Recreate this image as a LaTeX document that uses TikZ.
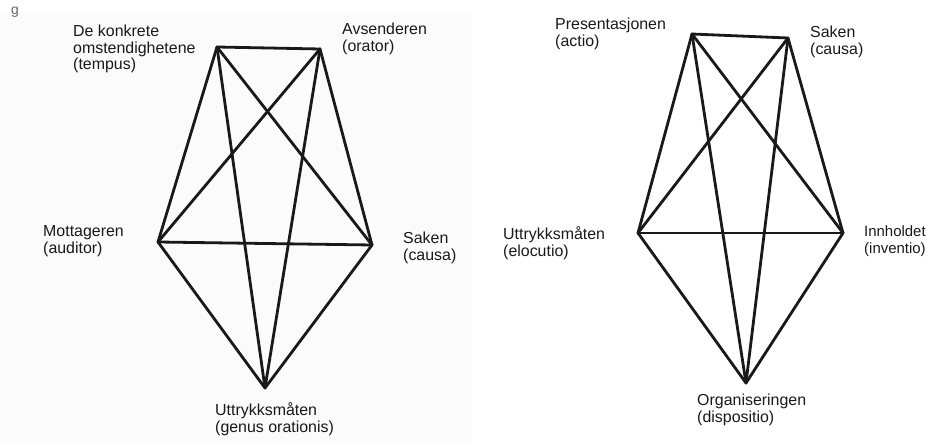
\documentclass[tikz,border=0pt]{standalone}
\usepackage{fontspec}
\setmainfont{Liberation Sans}
\begin{document}
\begin{tikzpicture}[x=1bp,y=-1bp,
  edge/.style={line width=2.8bp,line cap=round,line join=round,black!90},
  lbl/.style={anchor=west,align=left,inner sep=0pt,font=\fontsize{16}{16.8}\selectfont,text=black!90}]
\useasboundingbox (0,0) rectangle (930,441);
\fill[black!1.5] (0,12) rectangle (472,441);
\node[inner sep=0pt,font=\fontsize{14}{14}\selectfont,text=black!60] (g) at (15,12) {g};
% left graph
\coordinate (LT) at (217,47);
\coordinate (LO) at (320,49);
\coordinate (LA) at (158,242);
\coordinate (LC) at (372,245);
\coordinate (LB) at (265,388);
\foreach \a/\b in {LT/LO,LT/LA,LT/LC,LT/LB,LO/LA,LO/LC,LO/LB,LA/LC,LA/LB,LC/LB}
  \draw[edge] (\a) -- (\b);
\node[lbl] (tempus) at (73,49) {De konkrete\\omstendighetene\\(tempus)};
\node[lbl] (orator) at (342,39) {Avsenderen\\(orator)};
\node[lbl] (auditor) at (43,241) {Mottageren\\(auditor)};
\node[lbl] (causaL) at (403,248) {Saken\\(causa)};
\node[lbl] (genus) at (215,419) {Uttrykksmåten\\(genus orationis)};
% right graph
\coordinate (RA) at (692,34);
\coordinate (RS) at (788,38);
\coordinate (RE) at (638,233);
\coordinate (RI) at (843,233);
\coordinate (RD) at (746,383);
\foreach \a/\b in {RA/RS,RA/RE,RA/RI,RA/RD,RS/RE,RS/RI,RS/RD,RE/RI,RE/RD,RI/RD}
  \draw[edge] (\a) -- (\b);
\node[lbl] (actio) at (555,34) {Presentasjonen\\(actio)};
\node[lbl] (causaR) at (810,42) {Saken\\(causa)};
\node[lbl] (elocutio) at (503,243) {Uttrykksmåten\\(elocutio)};
\node[lbl,font=\fontsize{15}{16.8}\selectfont] (inventio) at (864,241) {Innholdet\\(inventio)};
\node[lbl] (dispositio) at (697,410) {Organiseringen\\(dispositio)};
\end{tikzpicture}
\end{document}
